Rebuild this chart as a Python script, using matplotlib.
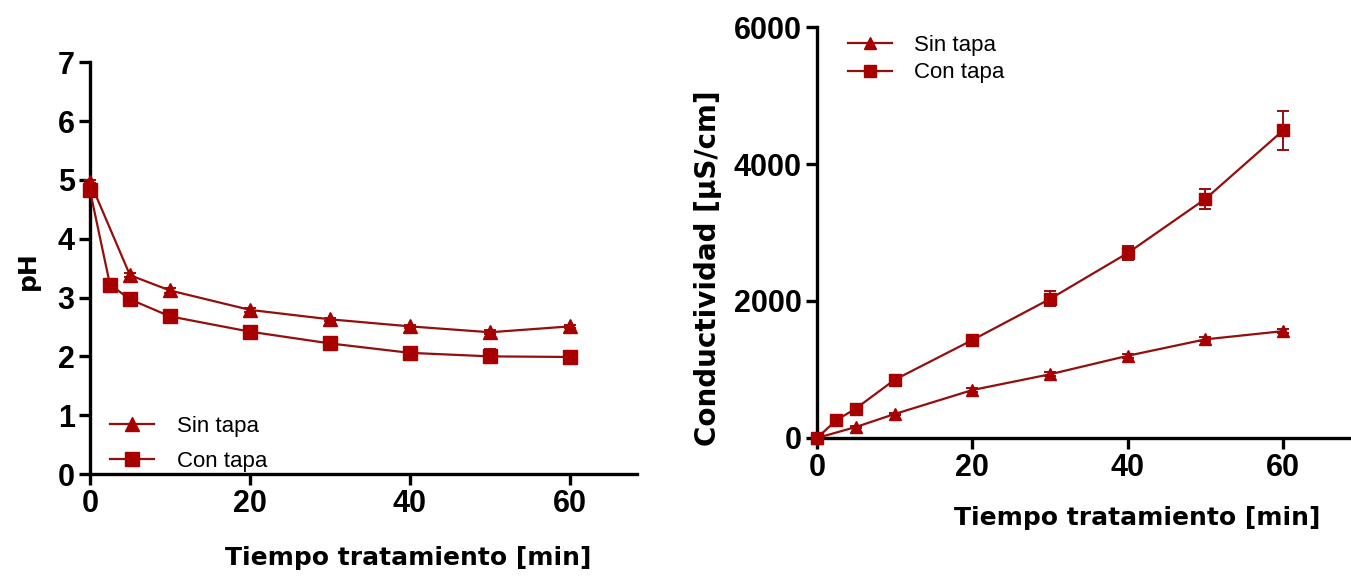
import matplotlib
matplotlib.use("Agg")
import matplotlib.pyplot as plt
from matplotlib.lines import Line2D

# ---- data ----
t_sin = [0, 5, 10, 20, 30, 40, 50, 60]
t_con = [0, 2.5, 5, 10, 20, 30, 40, 50, 60]

ph_sin = [4.97, 3.38, 3.12, 2.79, 2.63, 2.51, 2.41, 2.51]
ph_sin_err = [0.03, 0.03, 0.04, 0.03, 0.03, 0.03, 0.03, 0.03]
ph_con = [4.82, 3.22, 2.97, 2.68, 2.42, 2.22, 2.06, 2.00, 1.99]
ph_con_err = [0.05, 0.04, 0.05, 0.10, 0.04, 0.04, 0.08, 0.12, 0.04]

cond_sin = [0, 160, 350, 700, 930, 1200, 1440, 1560]
cond_sin_err = [0, 20, 20, 30, 30, 30, 30, 30]
cond_con = [0, 260, 430, 850, 1430, 2030, 2700, 3490, 4490]
cond_con_err = [0, 30, 30, 40, 50, 110, 100, 140, 290]

labels = ["Sin tapa", "Con tapa"]
x_ticks = [0, 20, 40, 60]
ph_ticks = [0, 1, 2, 3, 4, 5, 6, 7]
cond_ticks = [0, 2000, 4000, 6000]

red = "#a80000"
line_red = "#940e0e"

fig = plt.figure(figsize=(13.51, 5.76), dpi=100)

tick_font = dict(family="Liberation Sans", weight="bold", size=22)
label_font = dict(family="DejaVu Sans", weight="bold", size=18)


def style(ax):
    for s in ["top", "right"]:
        ax.spines[s].set_visible(False)
    for s in ["left", "bottom"]:
        ax.spines[s].set_linewidth(2.4)
    ax.tick_params(width=2.4, length=8, pad=3)
    for lab in ax.get_xticklabels() + ax.get_yticklabels():
        lab.set_fontproperties(matplotlib.font_manager.FontProperties(**tick_font))


def series(ax, x, y, e, marker, ms):
    ax.errorbar(x, y, yerr=e, color=line_red, lw=1.6, marker=marker, ms=ms,
                mfc=red, mec=red, ecolor=line_red, elinewidth=1.4, capsize=4,
                capthick=1.4, clip_on=False, zorder=3)


def handles(ms_tri, ms_sq):
    return [Line2D([], [], color=line_red, lw=1.6, marker="^", ms=ms_tri, mfc=red, mec=red),
            Line2D([], [], color=line_red, lw=1.6, marker="s", ms=ms_sq, mfc=red, mec=red)]


# ---- left: pH ----
ax1 = fig.add_axes([0.0666, 0.177, 0.405, 0.715])
series(ax1, t_sin, ph_sin, ph_sin_err, "^", 10)
series(ax1, t_con, ph_con, ph_con_err, "s", 10)
ax1.set_xlim(0, 68.4)
ax1.set_ylim(0, 7)
ax1.set_xticks(x_ticks)
ax1.set_yticks(ph_ticks)
style(ax1)
ax1.set_xlabel("Tiempo tratamiento [min]", **label_font)
ax1.set_ylabel("pH", **label_font)
ax1.xaxis.set_label_coords(0.581, -0.175)
ax1.yaxis.set_label_coords(-0.092, 0.495)
ax1.legend(handles(10, 10), labels, loc="upper left", bbox_to_anchor=(0.0, 0.19),
           frameon=False, prop=dict(family="Liberation Sans", size=16),
           handlelength=2.0, handletextpad=1.0, labelspacing=0.65)

# ---- right: conductivity ----
ax2 = fig.add_axes([0.6047, 0.2396, 0.4025, 0.7135])
series(ax2, t_sin, cond_sin, cond_sin_err, "^", 9)
series(ax2, t_con, cond_con, cond_con_err, "s", 9)
ax2.set_xlim(0, 70)
ax2.set_ylim(0, 6000)
ax2.set_xticks(x_ticks)
ax2.set_yticks(cond_ticks)
style(ax2)
ax2.set_xlabel("Tiempo tratamiento [min]", **label_font)
ax2.set_ylabel("Conductividad [\u00b5S/cm]", family="DejaVu Sans", weight="bold", size=20)
ax2.xaxis.set_label_coords(0.588, -0.165)
ax2.yaxis.set_label_coords(-0.175, 0.414)
ax2.legend(handles(9, 9), labels, loc="upper left", bbox_to_anchor=(0.02, 1.03),
           frameon=False, prop=dict(family="Liberation Sans", size=16),
           handlelength=2.0, handletextpad=1.0, labelspacing=0.3)

fig.savefig("out.png", dpi=100)
